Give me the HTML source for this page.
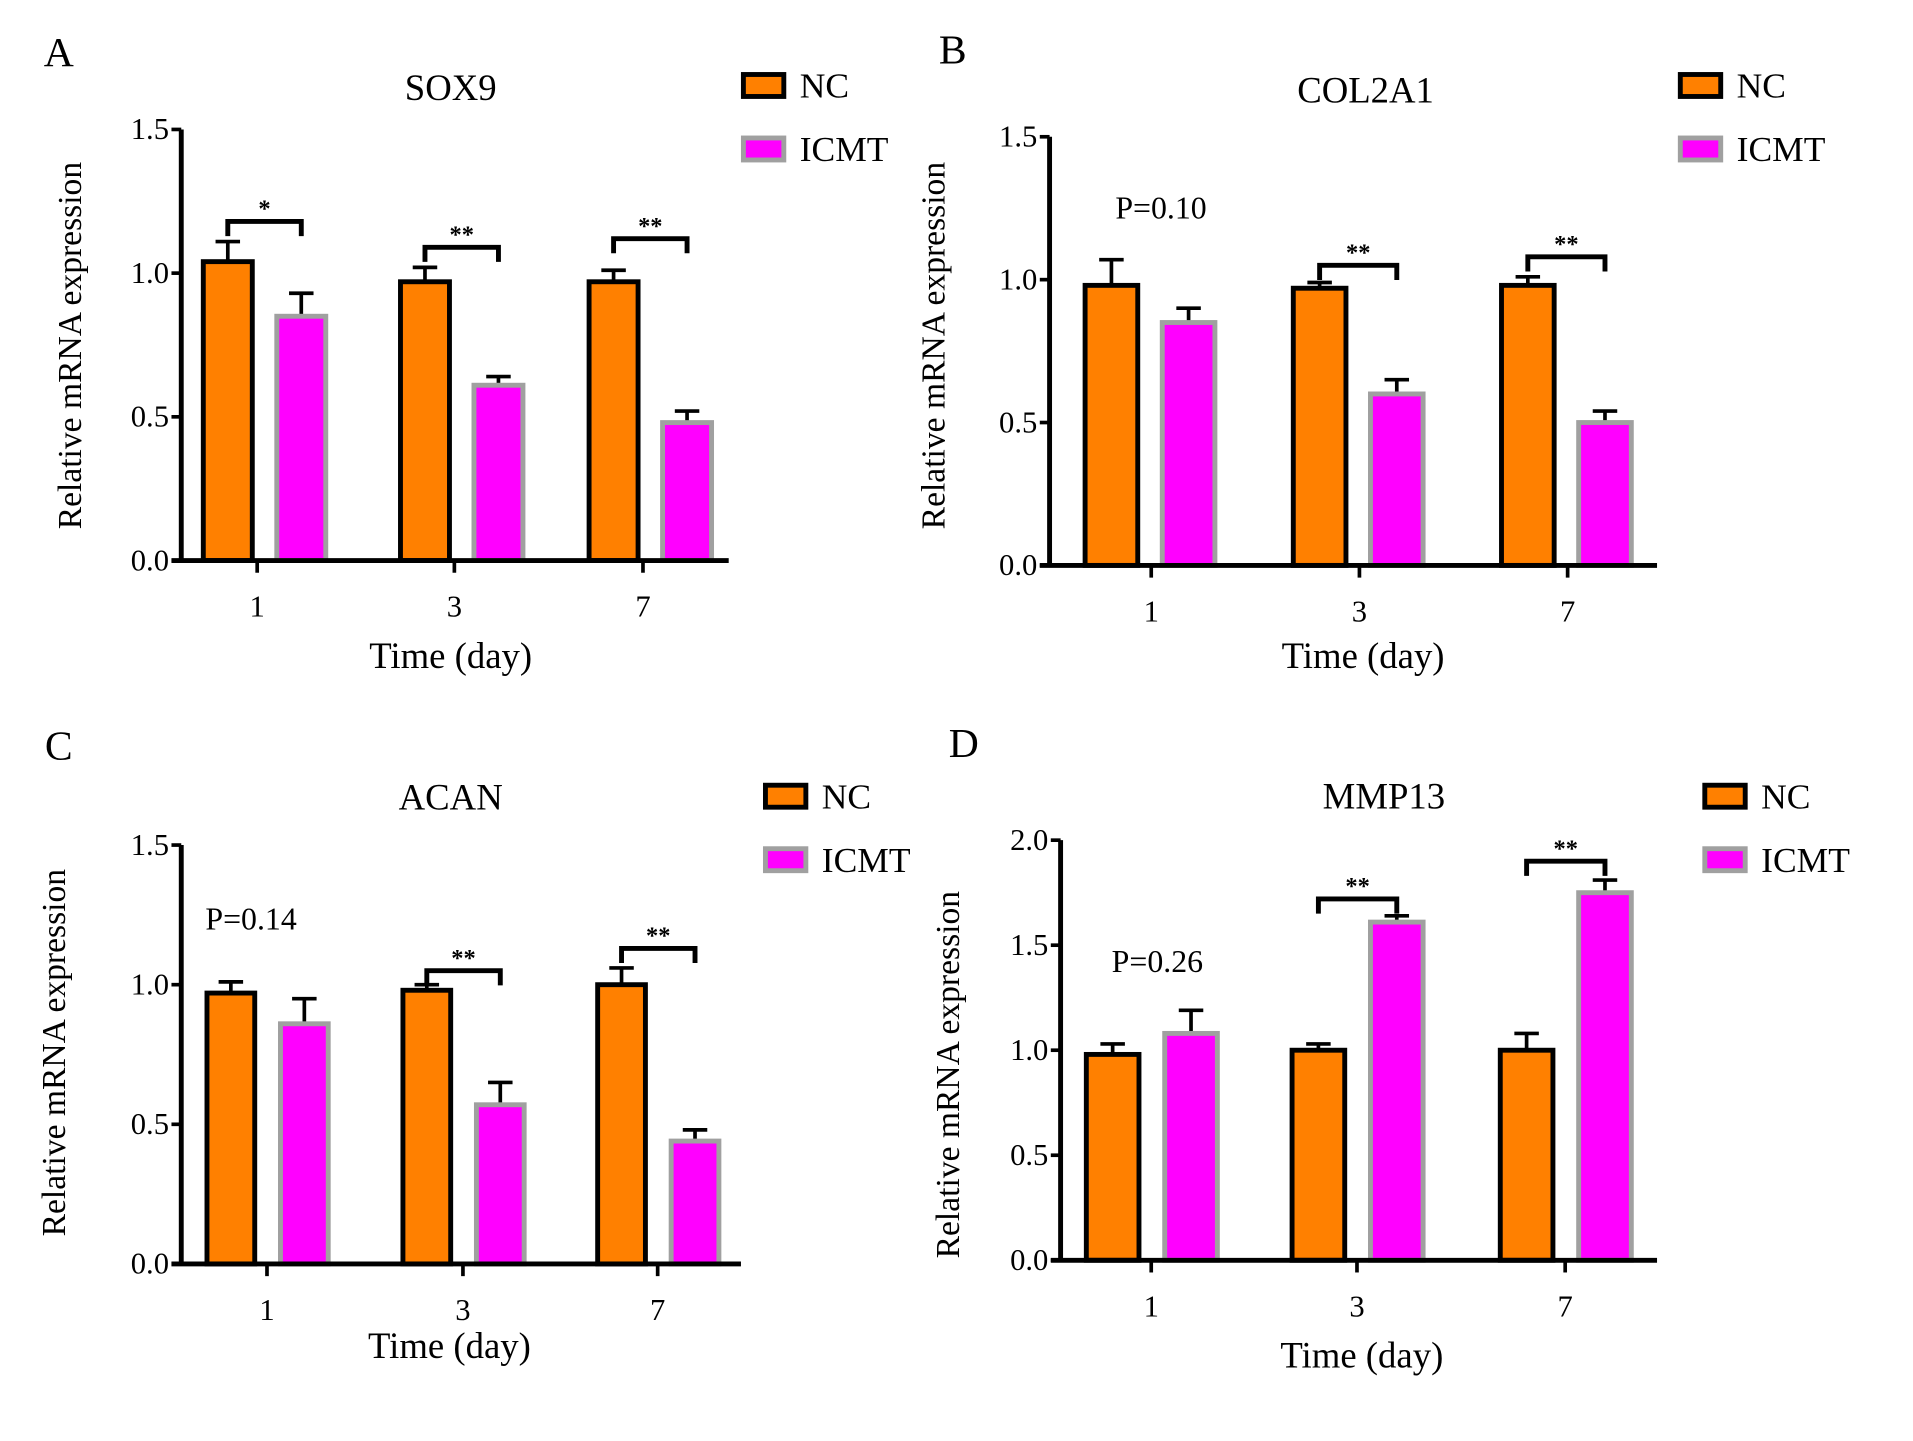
<!DOCTYPE html>
<html><head><meta charset="utf-8"><style>
html,body{margin:0;padding:0;background:#fff;}
svg{display:block;font-family:"Liberation Serif",serif;}
</style></head><body>
<svg id="fig" width="1913" height="1441" viewBox="0 0 1562 1180" preserveAspectRatio="none" xmlns="http://www.w3.org/2000/svg"></svg>
<script>
const categories = ["1","3","7"];
const sox9NC = [1.04,0.97,0.97], sox9NCErr=[0.07,0.05,0.04];
const sox9ICMT = [0.85,0.61,0.48], sox9ICMTErr=[0.08,0.03,0.04];
const col2a1NC = [0.98,0.97,0.98], col2a1NCErr=[0.09,0.02,0.03];
const col2a1ICMT = [0.85,0.60,0.50], col2a1ICMTErr=[0.05,0.05,0.04];
const acanNC = [0.97,0.98,1.00], acanNCErr=[0.04,0.02,0.06];
const acanICMT = [0.86,0.57,0.44], acanICMTErr=[0.09,0.08,0.04];
const mmp13NC = [0.98,1.00,1.00], mmp13NCErr=[0.05,0.03,0.08];
const mmp13ICMT = [1.08,1.61,1.75], mmp13ICMTErr=[0.11,0.03,0.06];
const ticks15 = ["0.0","0.5","1.0","1.5"];
const ticks20 = ["0.0","0.5","1.0","1.5","2.0"];
const sigA = [["*",1.18],["**",1.09],["**",1.12]];
const sigB = [null,["**",1.05],["**",1.08]];
const sigC = [null,["**",1.05],["**",1.13]];
const sigD = [null,["**",1.72],["**",1.9]];

const svg=document.getElementById('fig');
const NS="http://www.w3.org/2000/svg";
function el(tag,attrs,parent,text){const e=document.createElementNS(NS,tag);for(const k in attrs)e.setAttribute(k,attrs[k]);if(text!==undefined)e.textContent=text;(parent||svg).appendChild(e);return e;}

function panel(p){
  const g=el('g',{});
  
  
  const ymax=parseFloat(p.ticks[p.ticks.length-1]);
  const y=v=>p.y0-(v/ymax)*(p.y0-p.yTop);
  const xt=i=>p.xTicks[i];
  let t=el('text',{x:p.lx,y:p.ly,'font-size':34,'text-anchor':'middle'},g,p.letter);
  
  t=el('text',{x:p.tx,y:p.ty,'font-size':30,'text-anchor':'middle'},g,p.title);
  
  for(let i=0;i<categories.length;i++){
    [[p.nc,p.ncE,p.offNC,'#ff8000','#000'],[p.ic,p.icE,p.offIC,'#ff00ff','#a0a0a0']].forEach((s,si)=>{
      const x=xt(i)+s[2], v=s[0][i], e=s[1][i];
      const top=y(v), cx=x+p.bw/2;
      const er=el('path',{d:`M${cx} ${top} V${y(v+e)} M${cx-10} ${y(v+e)} H${cx+10}`,stroke:'#000','stroke-width':3,fill:'none'},g);
      
      const r=el('rect',{x:x,y:top,width:p.bw,height:p.y0-top,fill:s[3],stroke:s[4],'stroke-width':4},g);
      
    });
    const sg=p.sig[i];
    if(sg){
      const x1=xt(i)+p.offNC+p.bw/2, x2=xt(i)+p.offIC+p.bw/2, by=y(sg[1]);
      const b=el('path',{d:`M${x1} ${by+12} V${by} H${x2} V${by+12}`,stroke:'#000','stroke-width':4,fill:'none'},g);
      
      t=el('text',{x:(x1+x2)/2,y:by-4,'font-size':20,'text-anchor':'middle','font-weight':'bold'},g,sg[0]);
      
    }
    const tk=el('line',{x1:xt(i),x2:xt(i),y1:p.y0,y2:p.y0+10,stroke:'#000','stroke-width':3},g);
    
    t=el('text',{x:xt(i),y:p.y0+46,'font-size':25,'text-anchor':'middle'},g,categories[i]);
    
  }
  const ax=el('path',{d:`M${p.ax} ${p.yTop} V${p.y0} M${p.ax-8} ${p.y0} H${p.axEnd}`,stroke:'#000','stroke-width':4,fill:'none'},g);
  
  p.ticks.forEach(tl=>{
    const yy=y(parseFloat(tl));
    el('line',{x1:p.ax-8,x2:p.ax,y1:yy,y2:yy,stroke:'#000','stroke-width':3},g);
    const tt=el('text',{x:p.ax-10,y:yy+8,'font-size':25,'text-anchor':'end'},g,tl);
    
  });
  t=el('text',{x:p.ylx,y:p.yly,'font-size':27.5,'text-anchor':'middle',transform:`rotate(-90 ${p.ylx} ${p.yly})`},g,'Relative mRNA expression');
  
  t=el('text',{x:p.xlx,y:p.xly,'font-size':30,'text-anchor':'middle'},g,'Time (day)');
  
  if(p.pval){t=el('text',{x:p.pval[1],y:p.pval[2],'font-size':26,'text-anchor':'middle'},g,p.pval[0]);
    }
  [['NC','#ff8000','#000',p.legY],['ICMT','#ff00ff','#a0a0a0',p.legY+52]].forEach(l=>{
    const r=el('rect',{x:p.legX,y:l[3]-9,width:33,height:18,fill:l[1],stroke:l[2],'stroke-width':4},g);
    
    const tt=el('text',{x:p.legX+46,y:l[3]+10,'font-size':29},g,l[0]);
    
  });
}
panel({letter:'A',lx:48,ly:54,title:'SOX9',tx:368,ty:82,nc:sox9NC,ncE:sox9NCErr,ic:sox9ICMT,icE:sox9ICMTErr,
  ticks:ticks15,y0:459,yTop:106,ax:148,axEnd:595,xTicks:[210,371,525],offNC:-44,offIC:16,bw:40,sig:sigA,
  ylx:66,yly:283,xlx:368,xly:547,legX:607,legY:70});
panel({letter:'B',lx:778,ly:52,title:'COL2A1',tx:1115,ty:84,nc:col2a1NC,ncE:col2a1NCErr,ic:col2a1ICMT,icE:col2a1ICMTErr,
  ticks:ticks15,y0:463,yTop:112,ax:857,axEnd:1353,xTicks:[940,1110,1280],offNC:-54,offIC:9,bw:43,sig:sigB,
  ylx:771,yly:283,xlx:1113,xly:547,legX:1372,legY:70,pval:['P=0.10',948,179]});
panel({letter:'C',lx:48,ly:622,title:'ACAN',tx:368,ty:663,nc:acanNC,ncE:acanNCErr,ic:acanICMT,icE:acanICMTErr,
  ticks:ticks15,y0:1035,yTop:692,ax:148,axEnd:605,xTicks:[218,378,537],offNC:-49,offIC:11,bw:39,sig:sigC,
  ylx:53,yly:862,xlx:367,xly:1112,legX:625,legY:652,pval:['P=0.14',205,761]});
panel({letter:'D',lx:787,ly:620,title:'MMP13',tx:1130,ty:662,nc:mmp13NC,ncE:mmp13NCErr,ic:mmp13ICMT,icE:mmp13ICMTErr,
  ticks:ticks20,y0:1032,yTop:688,ax:866,axEnd:1353,xTicks:[940,1108,1278],offNC:-53,offIC:11,bw:43,sig:sigD,
  ylx:783,yly:880,xlx:1112,xly:1120,legX:1392,legY:652,pval:['P=0.26',945,796]});
</script>
</body></html>
